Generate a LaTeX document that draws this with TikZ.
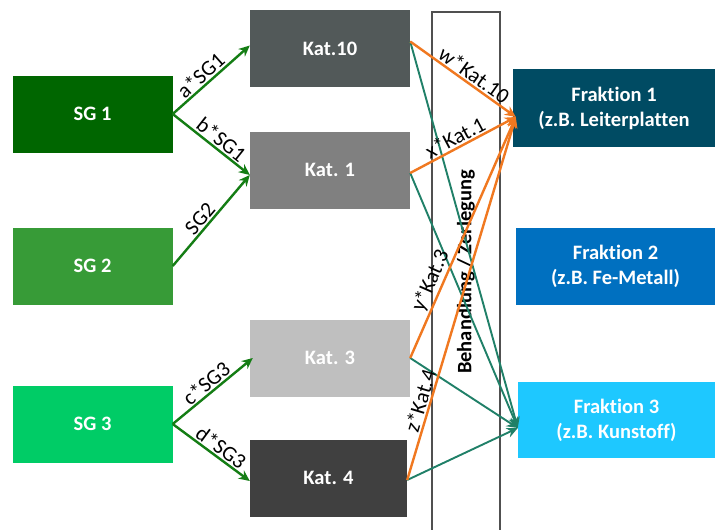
\documentclass[tikz,border=0pt]{standalone}
\usepackage{fontspec}
\setmainfont{Carlito}[Ligatures=NoCommon]
\usetikzlibrary{arrows.meta}
\definecolor{sgone}{RGB}{0,102,0}
\definecolor{sgtwo}{RGB}{55,155,55}
\definecolor{sgthree}{RGB}{0,204,102}
\definecolor{katten}{RGB}{82,89,89}
\definecolor{katone}{RGB}{128,128,128}
\definecolor{katthree}{RGB}{191,191,191}
\definecolor{katfour}{RGB}{64,64,64}
\definecolor{frone}{RGB}{0,75,99}
\definecolor{frtwo}{RGB}{0,112,192}
\definecolor{frthree}{RGB}{30,200,255}
\definecolor{arrgreen}{RGB}{20,125,20}
\definecolor{arrorange}{RGB}{240,120,32}
\definecolor{arrteal}{RGB}{32,128,104}
\definecolor{frameline}{RGB}{80,80,80}
\tikzset{
  box/.style={draw=none, text=white, font=\fontsize{20.5}{25}\selectfont\bfseries, align=center, inner sep=0pt},
  lbl/.style={font=\fontsize{21.5}{23}\selectfont, text=black, sloped, above, inner sep=1.5pt},
  garrow/.style={draw=arrgreen, line width=2.4pt, -{Stealth[length=11pt,width=10pt]}},
  oarrow/.style={draw=arrorange, line width=2.4pt, -{Stealth[length=11pt,width=10pt]}},
  tarrow/.style={draw=arrteal, line width=1.9pt, -{Stealth[length=11pt,width=10pt]}}
}
\begin{document}
\begin{tikzpicture}[x=1pt,y=-1pt]
\useasboundingbox (0,0) rectangle (715,530);
\fill[white] (0,0) rectangle (715,530);
% treatment frame
\node[draw=frameline, line width=1.4pt, minimum width=68pt, minimum height=522pt, inner sep=0pt] (frame) at (466,273) {};
\node[rotate=90, font=\fontsize{20.5}{22}\selectfont\bfseries, text=black] (beh) at (466,272) {Behandlung / Zerlegung};
% source groups
\node[box, fill=sgone, minimum width=160pt, minimum height=77pt] (sg1) at (92.5,114) {SG 1};
\node[box, fill=sgtwo, minimum width=160pt, minimum height=77pt] (sg2) at (92.5,266) {SG 2};
\node[box, fill=sgthree, minimum width=160pt, minimum height=77pt] (sg3) at (92.5,424) {SG 3};
% categories
\node[box, fill=katten, minimum width=160pt, minimum height=77pt] (kat10) at (330,48.5) {Kat.10};
\node[box, fill=katone, minimum width=160pt, minimum height=77pt] (kat1) at (330,170) {Kat. 1};
\node[box, fill=katthree, minimum width=160pt, minimum height=77pt] (kat3) at (330,358) {Kat. 3};
\node[box, fill=katfour, minimum width=157pt, minimum height=77pt] (kat4) at (328.5,478) {Kat. 4};
% fractions
\node[box, fill=frone, minimum width=202pt, minimum height=78pt] (f1) at (614,108) {Fraktion 1\\(z.B. Leiterplatten};
\node[box, fill=frtwo, minimum width=199pt, minimum height=77pt] (f2) at (615.5,266.5) {Fraktion 2\\(z.B. Fe-Metall)};
\node[box, fill=frthree, minimum width=197pt, minimum height=76pt] (f3) at (616.5,420) {Fraktion 3\\(z.B. Kunstoff)};
% green arrows
\draw[garrow] (sg1.east) -- node[lbl, pos=0.45] {a*SG1} ([yshift=3pt]kat10.west);
\draw[garrow] (sg1.east) -- node[lbl, pos=0.55] {b*SG1} ([yshift=-5pt]kat1.west);
\draw[garrow] (sg2.east) -- node[lbl, pos=0.45] {SG2} ([yshift=-5pt]kat1.west);
\draw[garrow] (sg3.east) -- node[lbl, pos=0.5] {c*SG3} ([xshift=3pt]kat3.west);
\draw[garrow] (sg3.east) -- node[lbl, pos=0.55] {d*SG3} ([yshift=-3pt]kat4.west);
% teal arrows
\draw[tarrow] ([yshift=7pt]kat10.east) -- ([yshift=-8pt]f3.west);
\draw[tarrow] ([yshift=-3pt]kat1.east) -- ([yshift=-8pt]f3.west);
\draw[tarrow] (kat3.east) -- ([yshift=-8pt]f3.west);
\draw[tarrow] ([yshift=-2pt]kat4.east) -- ([yshift=-8pt]f3.west);
% orange arrows
\draw[oarrow] ([yshift=7pt]kat10.east) -- node[lbl, pos=0.55] {w*Kat.10} ([xshift=3pt,yshift=-9pt]f1.west);
\draw[oarrow] ([yshift=-3pt]kat1.east) -- node[lbl, pos=0.47] {x*Kat.1} ([xshift=3pt,yshift=-9pt]f1.west);
\draw[oarrow] (kat3.east) -- node[lbl, pos=0.3] {y*Kat.3} ([xshift=3pt,yshift=-9pt]f1.west);
\draw[oarrow] ([yshift=-2pt]kat4.east) -- node[lbl, pos=0.21] {z*Kat.4} ([xshift=3pt,yshift=-9pt]f1.west);
\end{tikzpicture}
\end{document}
